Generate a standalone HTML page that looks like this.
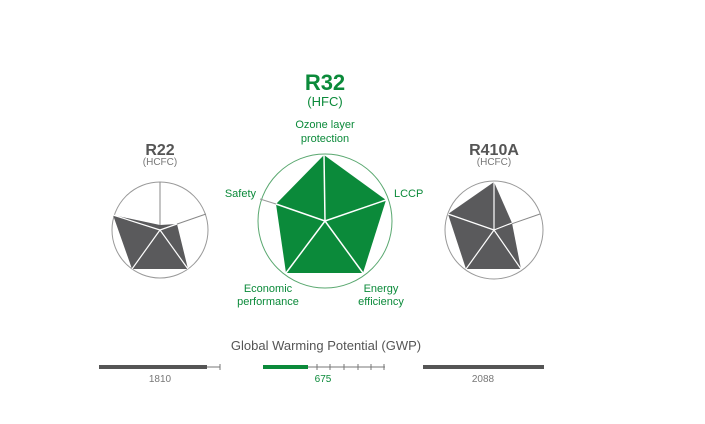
<!DOCTYPE html>
<html><head><meta charset="utf-8"><style>
body{margin:0;background:#fff;}
svg text{font-family:"Liberation Sans",sans-serif;}
</style></head><body>
<svg width="705" height="419" viewBox="0 0 705 419" xmlns="http://www.w3.org/2000/svg">
<rect width="705" height="419" fill="#fff"/>
<!-- R32 -->
<text x="325" y="90" text-anchor="middle" font-size="22" font-weight="bold" fill="#0b8a3a">R32</text>
<text x="325" y="106" text-anchor="middle" font-size="13" fill="#0b8a3a">(HFC)</text>
<text x="325" y="128" text-anchor="middle" font-size="11" fill="#0b8a3a">Ozone layer</text>
<text x="325" y="142" text-anchor="middle" font-size="11" fill="#0b8a3a">protection</text>
<text x="256" y="197" text-anchor="end" font-size="11" fill="#0b8a3a">Safety</text>
<text x="394" y="197" font-size="11" fill="#0b8a3a">LCCP</text>
<text x="268" y="292" text-anchor="middle" font-size="11" fill="#0b8a3a">Economic</text>
<text x="268" y="305" text-anchor="middle" font-size="11" fill="#0b8a3a">performance</text>
<text x="381" y="292" text-anchor="middle" font-size="11" fill="#0b8a3a">Energy</text>
<text x="381" y="305" text-anchor="middle" font-size="11" fill="#0b8a3a">efficiency</text>
<circle cx="325" cy="221" r="67" fill="none" stroke="#5aa870" stroke-width="1"/>
<polygon points="324,155 386,200 363,273 286,273 276,204" fill="#0b8a3a"/>
<g stroke="#fff" stroke-width="1.5"><line x1="325" y1="221" x2="324" y2="155"/><line x1="325" y1="221" x2="386" y2="200"/><line x1="325" y1="221" x2="363" y2="273"/><line x1="325" y1="221" x2="286" y2="273"/><line x1="325" y1="221" x2="276" y2="204"/></g>
<line x1="276" y1="204" x2="260" y2="199" stroke="#999" stroke-width="1"/>
<!-- R22 -->
<text x="160" y="155" text-anchor="middle" font-size="16" font-weight="bold" fill="#555">R22</text>
<text x="160" y="165" text-anchor="middle" font-size="10" fill="#777">(HCFC)</text>
<circle cx="160" cy="230" r="48" fill="none" stroke="#999" stroke-width="1"/>
<line x1="160" y1="230" x2="160" y2="182" stroke="#888"/>
<line x1="160" y1="230" x2="206" y2="214" stroke="#888"/>
<polygon points="113,215 160,225 177,224 188,269 132,269" fill="#5a5a5c"/>
<g stroke="#fff" stroke-width="1.2"><line x1="160" y1="230" x2="113" y2="215"/><line x1="160" y1="230" x2="188" y2="269"/><line x1="160" y1="230" x2="132" y2="269"/><line x1="160" y1="230" x2="177" y2="224"/></g>
<!-- R410A -->
<text x="494" y="155" text-anchor="middle" font-size="16" font-weight="bold" fill="#555">R410A</text>
<text x="494" y="165" text-anchor="middle" font-size="10" fill="#777">(HCFC)</text>
<circle cx="494" cy="230" r="49" fill="none" stroke="#999" stroke-width="1"/>
<line x1="494" y1="230" x2="540" y2="214" stroke="#888"/>
<polygon points="494,182 512,223 521,269 466,269 448,214" fill="#5a5a5c"/>
<g stroke="#fff" stroke-width="1.2"><line x1="494" y1="230" x2="494" y2="182"/><line x1="494" y1="230" x2="512" y2="223"/><line x1="494" y1="230" x2="521" y2="269"/><line x1="494" y1="230" x2="466" y2="269"/><line x1="494" y1="230" x2="448" y2="214"/></g>
<!-- GWP -->
<text x="326" y="350" text-anchor="middle" font-size="13" fill="#555">Global Warming Potential (GWP)</text>
<line x1="207" y1="367" x2="220" y2="367" stroke="#777" stroke-width="1"/>
<line x1="220" y1="364" x2="220" y2="370" stroke="#777"/>
<rect x="99" y="365" width="108" height="4" fill="#555"/>
<line x1="308" y1="367" x2="385" y2="367" stroke="#777" stroke-width="1"/>
<g stroke="#777"><line x1="317" y1="364" x2="317" y2="370"/><line x1="330" y1="364" x2="330" y2="370"/><line x1="344" y1="364" x2="344" y2="370"/><line x1="358" y1="364" x2="358" y2="370"/><line x1="371" y1="364" x2="371" y2="370"/><line x1="384" y1="364" x2="384" y2="370"/></g>
<rect x="263" y="365" width="45" height="4" fill="#0b8a3a"/>
<rect x="423" y="365" width="121" height="4" fill="#555"/>
<text x="160" y="382" text-anchor="middle" font-size="10" fill="#777">1810</text>
<text x="323" y="382" text-anchor="middle" font-size="10" fill="#0b8a3a">675</text>
<text x="483" y="382" text-anchor="middle" font-size="10" fill="#777">2088</text>
</svg>
</body></html>
